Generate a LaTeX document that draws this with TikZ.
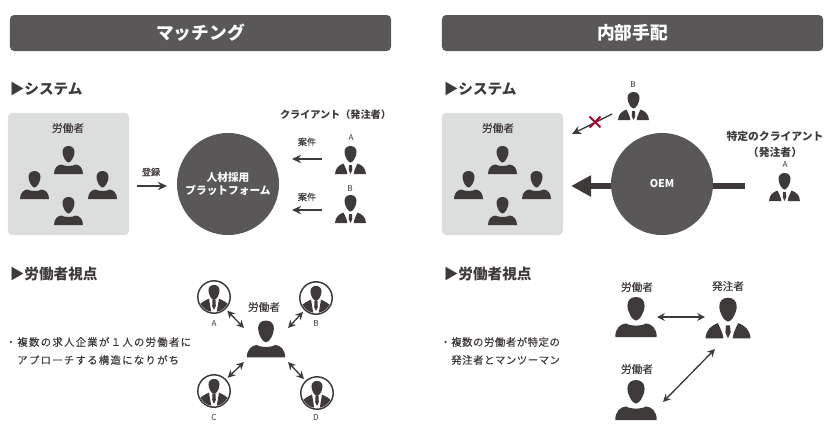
\documentclass[tikz,border=0pt]{standalone}
\usepackage{fontspec}
\setmainfont{Noto Sans CJK JP}
\newfontfamily\spacedcjk[LetterSpace=12, FakeBold=0.35]{Noto Sans CJK JP}
\newfontfamily\tightcjk[LetterSpace=5, FakeBold=0.35]{Noto Sans CJK JP}
\newfontfamily\mediumcjk[FakeBold=0.4]{Noto Sans CJK JP}
\usetikzlibrary{arrows.meta, backgrounds, shapes.misc}
\definecolor{ink}{HTML}{3E3A39}
\definecolor{slate}{HTML}{595757}
\definecolor{panel}{HTML}{DCDDDD}
\definecolor{banred}{HTML}{A40B2C}
\newcommand{\headpath}{(0,-14) .. controls (3.8,-14) and (6,-11.5) .. (6,-8) .. controls (6,-3.5) and (2.5,2.5) .. (0,2.5) .. controls (-2.5,2.5) and (-6,-3.5) .. (-6,-8) .. controls (-6,-11.5) and (-3.8,-14) .. (0,-14) -- cycle}

\begin{document}
\begin{tikzpicture}[
    x=0.025cm, y=-0.025cm,
    banner/.style={fill=slate, rounded corners=3pt, minimum width=9.525cm, minimum height=0.9cm, inner sep=0pt, text=white, font=\fontsize{12.6}{14}\selectfont\bfseries},
    section/.style={anchor=west, inner sep=0pt, text=ink, font=\fontsize{10.4}{12}\selectfont\bfseries},
    graybox/.style={fill=panel, rounded corners=3pt, minimum width=3.025cm, minimum height=3.05cm, inner sep=0pt},
    hub/.style={circle, fill=slate, minimum size=2.55cm, inner sep=0pt, align=center, text=white, font=\fontsize{7.6}{8.6}\selectfont\bfseries},
    tag/.style={inner sep=0pt, align=center, text=ink, font=\fontsize{7.6}{11.4}\mediumcjk},
    boldtag/.style={tag, font=\fontsize{#1}{11.4}\selectfont\bfseries},
    smalltag/.style={tag, font=\fontsize{6.5}{8}\mediumcjk},
    letter/.style={tag, font=\fontsize{5.8}{7}\selectfont},
    bodytext/.style={anchor=west, inner sep=0pt, text=ink, font=\fontsize{7.4}{9}\spacedcjk},
    avatar/.style={circle, draw=ink, line width=1.05pt, minimum size=0.81cm, inner sep=0pt},
    figure/.style={minimum width=#1, minimum height=1cm, inner sep=0pt, outer sep=0pt},
    arrow/.style={-{Stealth[length=6.5pt, width=6pt]}, draw=ink, line width=0.95pt},
    both/.style={{Stealth[length=5.5pt, width=5.5pt]}-{Stealth[length=5.5pt, width=5.5pt]}, draw=ink, line width=0.95pt},
    pics/worker/.style={code={
        \fill[ink] \headpath;
        \fill[ink] (-14.5,14) .. controls (-14.5,8) and (-11,4.8) .. (-7,4.5) .. controls (-4,6.5) and (4,6.5) .. (7,4.5) .. controls (11,4.8) and (14.5,8) .. (14.5,14) -- cycle;
    }},
    pics/client/.style={code={
        \fill[ink] \headpath;
        \fill[ink] (-15.5,14) .. controls (-15,8) and (-12,5.5) .. (-7,3.5) .. controls (-5.5,7) and (-3.5,10) .. (-3.2,14) -- cycle;
        \fill[ink] (15.5,14) .. controls (15,8) and (12,5.5) .. (7,3.5) .. controls (5.5,7) and (3.5,10) .. (3.2,14) -- cycle;
        \fill[ink] (-1.4,5) -- (1.4,5) -- (1.8,10) -- (0,14) -- (-1.8,10) -- cycle;
    }},
    pics/face/.style={code={
        \begin{scope}
        \clip (0,0) circle (15);
        \fill[ink, yshift=-0.02cm, scale=0.92] \headpath;
        \fill[ink] (-16,18) -- (-16,9) .. controls (-13,5.5) and (-9,3.5) .. (-5,1.5) .. controls (-4,8) and (-3,12) .. (-2.5,18) -- cycle;
        \fill[ink] (16,18) -- (16,9) .. controls (13,5.5) and (9,3.5) .. (5,1.5) .. controls (4,8) and (3,12) .. (2.5,18) -- cycle;
        \fill[ink] (-1.5,3) -- (1.5,3) -- (1.8,9) -- (0,13) -- (-1.8,9) -- cycle;
        \end{scope}
    }}
]
\useasboundingbox (0,0) rectangle (832,430);

% ----------------- 1. headers -----------------
\node[banner] (match) at (200.5, 33) {マッチング};
\node[banner] (inhouse) at (632.5, 33) {内部手配};

\node[section] (sys_l) at (9.5, 89) {▶システム};
\node[section] (sys_r) at (443.5, 89) {▶システム};
\node[section] (view_l) at (9.5, 274) {▶労働者視点};
\node[section] (view_r) at (443.5, 274) {▶労働者視点};

% ----------------- 2. left system -----------------
\node[graybox] (box_l) at (68.5, 174) {};
\node[tag] (box_l_t) at (68, 128) {労働者};
\pic at (68.5, 160) {worker};
\pic at (34.5, 185) {worker};
\pic at (102.5, 185) {worker};
\pic at (68.5, 211) {worker};

\node[hub] (platform) at (228, 184) {人材採用\\プラットフォーム};
\node[smalltag] (reg) at (151, 172) {登録};
\coordinate (reg_a) at (137, 186);
\coordinate (reg_b) at (167, 186);
\draw[arrow] (reg_a) -- (reg_b);

\node[boldtag=7.2] (clients) at (335.5, 115) {クライアント（発注者）};
\node[smalltag] (job_a) at (307, 142) {案件};
\node[smalltag] (job_b) at (307, 197) {案件};
\node[letter] (name_a) at (351, 138) {A};
\node[letter] (name_b) at (350, 189) {B};
\pic at (350.5, 160) {client};
\pic at (350.5, 209) {client};
\coordinate (job_a1) at (322, 159);
\coordinate (job_a2) at (292, 159);
\coordinate (job_b1) at (322, 210);
\coordinate (job_b2) at (292, 210);
\draw[arrow] (job_a1) -- (job_a2);
\draw[arrow] (job_b1) -- (job_b2);

% ----------------- 3. right system -----------------
\node[graybox] (box_r) at (502.5, 174) {};
\node[tag] (box_r_t) at (498, 128) {労働者};
\pic at (502.5, 160) {worker};
\pic at (468.5, 185) {worker};
\pic at (536.5, 185) {worker};
\pic at (502.5, 211) {worker};

\node[hub] (oem) at (662, 184) {OEM};
\coordinate (oem_a) at (745, 186);
\coordinate (oem_b) at (571, 186);
\begin{scope}[on background layer]
    \draw[ink, line width=4.3pt, -{Triangle[length=0.5cm, width=0.5cm]}] (oem_a) -- (oem_b);
\end{scope}

\node[letter] (name_b2) at (633, 85) {B};
\pic at (633.5, 106) {client};
\coordinate (ban_a) at (612, 114);
\coordinate (ban_b) at (572, 134);
\draw[arrow] (ban_a) -- (ban_b);
\node[cross out, draw=banred, line width=1.5pt, minimum size=0.22cm, inner sep=0pt] (ban) at (595, 122) {};

\node[boldtag=7.7] (special) at (775, 144) {特定のクライアント\\（発注者）};
\node[letter] (name_a2) at (785, 165) {A};
\pic at (784.5, 187) {client};

% ----------------- 4. left view -----------------
\node[bodytext] (txt_l1) at (5.5, 342) {・複数の求人企業が１人の労働者に};
\node[bodytext] (txt_l2) at (17, 360) {アプローチする構造になりがち};

\node[figure=1.1cm, minimum height=0.85cm] (me) at (266, 345) {};
\pic[scale=1.32] at (266, 339) {worker};
\node[tag] (me_t) at (264, 307) {労働者};

\node[avatar] (av_a) at (214, 297) {};
\node[avatar] (av_b) at (316, 298) {};
\node[avatar] (av_c) at (214, 391) {};
\node[avatar] (av_d) at (317, 393) {};
\pic at (av_a) {face};
\pic at (av_b) {face};
\pic at (av_c) {face};
\pic at (av_d) {face};
\node[letter] (lab_a) at (214, 323) {A};
\node[letter] (lab_b) at (316, 323) {B};
\node[letter] (lab_c) at (214, 417) {C};
\node[letter] (lab_d) at (316, 417) {D};

\draw[both, shorten <=1.5pt] (av_a) -- (me.north west);
\draw[both, shorten <=1.5pt] (av_b) -- (me.north east);
\draw[both, shorten <=1.5pt] (av_c) -- (me.south west);
\draw[both, shorten <=1.5pt] (av_d) -- (me.south east);

% ----------------- 5. right view -----------------
\node[bodytext, font=\fontsize{7.4}{9}\tightcjk] (txt_r1) at (440, 342) {・複数の労働者が特定の};
\node[bodytext, font=\fontsize{7.4}{9}\tightcjk] (txt_r2) at (451, 360) {発注者とマンツーマン};

\node[tag] (w1_t) at (637, 287) {労働者};
\node[tag] (boss_t) at (728, 286) {発注者};
\node[tag] (w2_t) at (637, 369) {労働者};
\node[figure=1.05cm] (w1) at (636, 317) {};
\node[figure=1.15cm] (boss) at (728, 317) {};
\node[figure=1.05cm] (w2) at (636, 400) {};
\pic[scale=1.43] at (w1) {worker};
\pic[scale=1.45] at (728, 318) {client};
\pic[scale=1.43] at (w2) {worker};
\coordinate (diag_a) at (663, 402);
\coordinate (diag_b) at (715, 349);
\draw[both] (w1) -- (boss);
\draw[both] (diag_a) -- (diag_b);

\end{tikzpicture}
\end{document}
